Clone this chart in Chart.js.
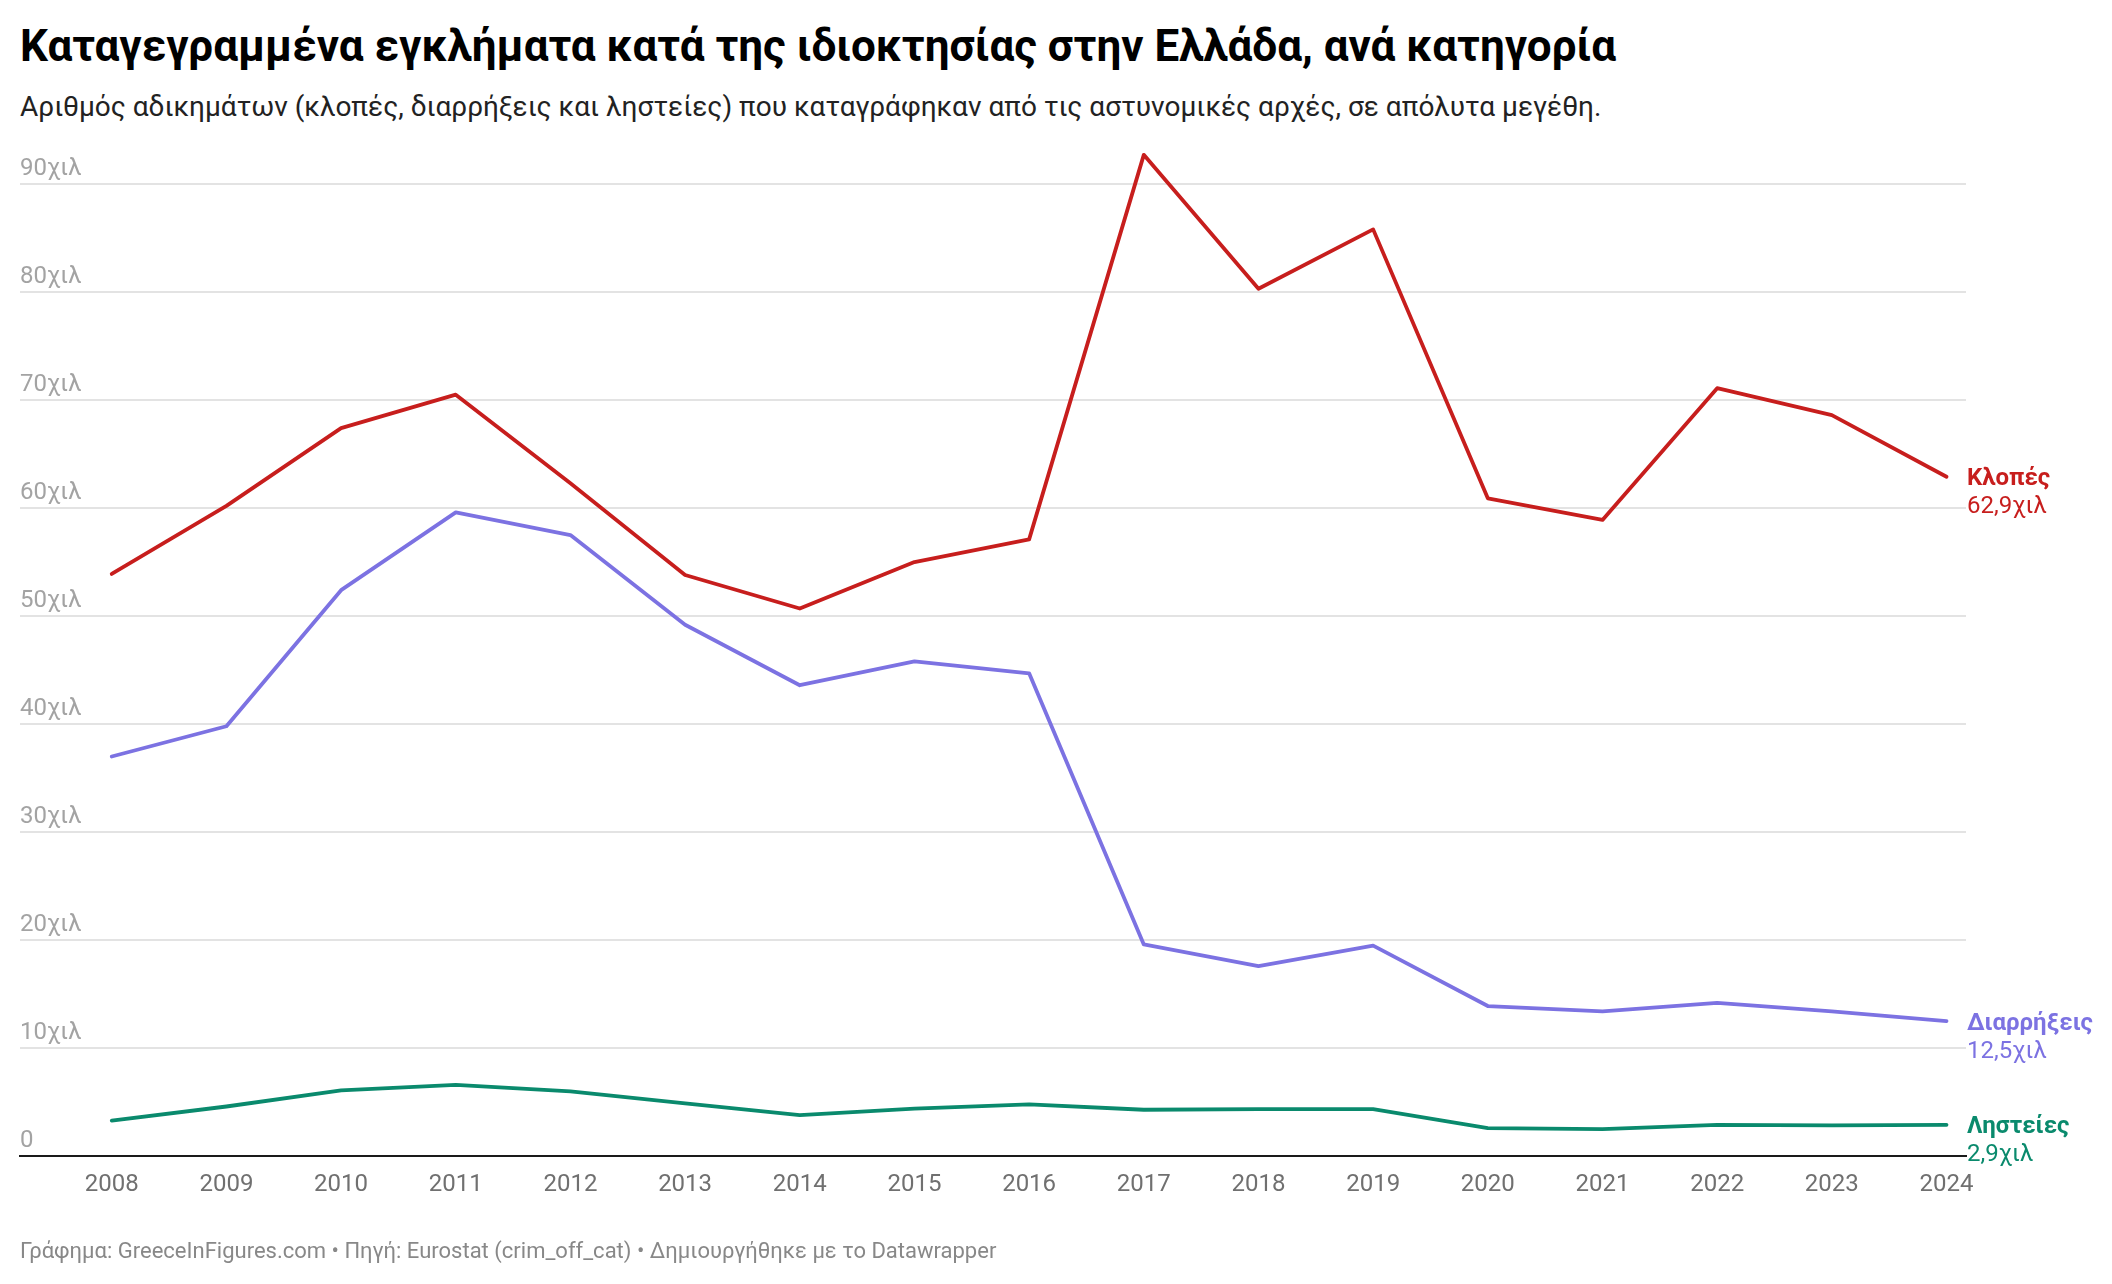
<!DOCTYPE html>
<html lang="el">
<head>
<meta charset="utf-8">
<title>Καταγεγραμμένα εγκλήματα κατά της ιδιοκτησίας στην Ελλάδα</title>
<script src="https://cdn.jsdelivr.net/npm/chart.js@4.4.1/dist/chart.umd.min.js"></script>
<style>
  html, body { margin: 0; padding: 0; background: #fff; }
  body { width: 2112px; height: 1284px; position: relative; overflow: hidden; font-family: Roboto, "Noto Sans", sans-serif; }
  .txt { position: absolute; left: 20px; white-space: nowrap; }
  #title { top: 24px; font-size: 44px; line-height: 44px; font-weight: 700; color: #000; }
  #subtitle { top: 93px; font-size: 28px; line-height: 28px; color: #222; }
  #footer { top: 1240px; font-size: 22px; line-height: 22px; color: #888; }
  #chart { position: absolute; left: 0; top: 0; }
</style>
</head>
<body>
<div id="title" class="txt">Καταγεγραμμένα εγκλήματα κατά της ιδιοκτησίας στην Ελλάδα, ανά κατηγορία</div>
<div id="subtitle" class="txt">Αριθμός αδικημάτων (κλοπές, διαρρήξεις και ληστείες) που καταγράφηκαν από τις αστυνομικές αρχές, σε απόλυτα μεγέθη.</div>
<canvas id="chart" width="2112" height="1284"></canvas>
<div id="footer" class="txt">Γράφημα: GreeceInFigures.com • Πηγή: Eurostat (crim_off_cat) • Δημιουργήθηκε με το Datawrapper</div>

<script>
/* ===== DATA (χιλιάδες αδικήματα) ===== */
const years = [2008, 2009, 2010, 2011, 2012, 2013, 2014, 2015, 2016, 2017, 2018, 2019, 2020, 2021, 2022, 2023, 2024];
const seriesNames = ["Κλοπές", "Διαρρήξεις", "Ληστείες"];
const thefts = [53.9, 60.2, 67.4, 70.5, 62.3, 53.8, 50.7, 55.0, 57.1, 92.7, 80.3, 85.8, 60.9, 58.9, 71.1, 68.6, 62.9];
const burglaries = [37.0, 39.8, 52.4, 59.6, 57.5, 49.2, 43.6, 45.8, 44.7, 19.6, 17.6, 19.5, 13.9, 13.4, 14.2, 13.4, 12.5];
const robberies = [3.3, 4.6, 6.1, 6.6, 6.0, 4.9, 3.8, 4.4, 4.8, 4.3, 4.35, 4.35, 2.6, 2.5, 2.9, 2.85, 2.9];
const yTicks = [0, 10, 20, 30, 40, 50, 60, 70, 80, 90];

const colors = ["#c71e1d", "#7c72e2", "#0a8a6d"];

function toPoints(values) {
  return values.map((v, i) => ({ x: years[i], y: v }));
}

function fmtK(v) {
  return v.toFixed(1).replace(".", ",") + "χιλ";
}

/* ===== LABELS AT LINE ENDS ===== */
const endLabels = {
  id: "endLabels",
  afterDatasetsDraw(chart) {
    const ctx = chart.ctx;
    const area = chart.chartArea;
    ctx.save();
    ctx.textAlign = "left";
    ctx.textBaseline = "alphabetic";
    chart.data.datasets.forEach((ds, i) => {
      const meta = chart.getDatasetMeta(i);
      const last = meta.data[meta.data.length - 1];
      const x = area.right + 1;
      const y = last.y + 8.5;
      ctx.fillStyle = ds.borderColor;
      ctx.font = "700 24px Roboto";
      ctx.fillText(ds.label, x, y);
      ctx.font = "400 24px Roboto";
      ctx.fillText(fmtK(ds.data[ds.data.length - 1].y), x, y + 28);
    });
    ctx.restore();
  }
};

/* ===== CHART ===== */
const ctx = document.getElementById("chart");

new Chart(ctx, {
  type: "line",
  data: {
    datasets: [thefts, burglaries, robberies].map((vals, i) => ({
      label: seriesNames[i],
      data: toPoints(vals),
      borderColor: colors[i],
      backgroundColor: colors[i],
      borderWidth: 3.8,
      pointRadius: 0,
      tension: 0,
      borderJoinStyle: "round",
      borderCapStyle: "round",
      clip: false
    }))
  },
  options: {
    responsive: false,
    animation: false,
    devicePixelRatio: 1,
    layout: { padding: { top: 130, left: 20, right: 146, bottom: 71 } },
    plugins: {
      legend: { display: false },
      tooltip: { enabled: false }
    },
    scales: {
      x: {
        type: "linear",
        min: 2007.2,
        max: 2024.17,
        grid: { display: false, drawTicks: false },
        border: { display: true, color: "#1a1a1a", width: 2 },
        afterBuildTicks: axis => { axis.ticks = years.map(v => ({ value: v })); },
        ticks: {
          autoSkip: false,
          maxRotation: 0,
          padding: 14,
          color: "#707070",
          font: { family: "Roboto", size: 24 },
          callback: v => String(v)
        }
      },
      y: {
        min: 0,
        max: 95,
        grid: { color: "#e3e3e3", lineWidth: 2, drawTicks: false },
        border: { display: false },
        afterBuildTicks: axis => { axis.ticks = yTicks.map(v => ({ value: v })); },
        ticks: {
          mirror: true,
          padding: 0,
          labelOffset: -15,
          color: "#a3a3a3",
          font: { family: "Roboto", size: 24 },
          callback: v => (v === 0 ? "0" : v + "χιλ")
        }
      }
    }
  },
  plugins: [endLabels]
});
</script>
</body>
</html>
